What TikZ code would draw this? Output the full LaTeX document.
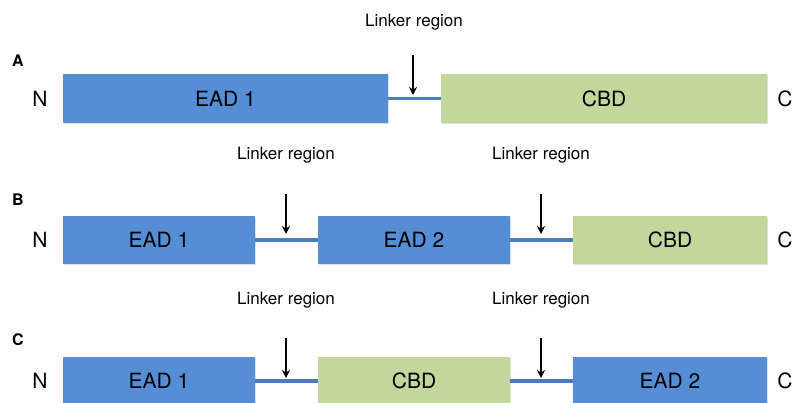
\documentclass[tikz,border=0pt]{standalone}
\usepackage{fontspec}
\setmainfont{TeX Gyre Heros}
\usetikzlibrary{shadows,arrows.meta}
\definecolor{eadblue}{HTML}{558ED5}
\definecolor{cbdgreen}{HTML}{C3D69B}
\definecolor{linkblue}{HTML}{4A7EBB}
\begin{document}
\begin{tikzpicture}[x=1pt,y=-1pt,
  dom/.style={rectangle, inner sep=0pt, minimum height=49pt, font=\fontsize{21}{24}\selectfont,
     drop shadow={shadow xshift=1pt, shadow yshift=-1.5pt, opacity=0.25}},
  ead/.style={dom, fill=eadblue},
  cbd/.style={dom, fill=cbdgreen},
  linker/.style={draw=linkblue, line width=3.8pt},
  pointer/.style={draw=black, line width=2.2pt, -{Stealth[length=8pt,width=8pt]}},
  lbl/.style={font=\fontsize{17}{20}\selectfont},
  term/.style={font=\fontsize{21}{24}\selectfont},
  panel/.style={font=\bfseries\fontsize{16}{19}\selectfont}]
\useasboundingbox (0,0) rectangle (793,403);

% Row A
\node[panel] (pA) at (18,61) {A};
\node[term] (nA) at (40,99) {N};
\node[term] (cA) at (785,99) {C};
\node[ead, minimum width=325pt] (a1) at (225.5,98.5) {EAD 1};
\node[cbd, minimum width=326pt] (a2) at (604,98.5) {CBD};
\draw[linker] (a1.east) -- (a2.west);
\node[lbl] (la) at (414,22) {Linker region};
\coordinate (ta) at (413,55);
\coordinate (ha) at (413,95);
\draw[pointer] (ta) -- (ha);

% Row B
\node[panel] (pB) at (18,200) {B};
\node[term] (nB) at (40,240) {N};
\node[term] (cB) at (785,240) {C};
\node[ead, minimum width=192pt, minimum height=48pt] (b1) at (159,240) {EAD 1};
\node[ead, minimum width=192pt, minimum height=48pt] (b2) at (414,240) {EAD 2};
\node[cbd, minimum width=194pt, minimum height=48pt] (b3) at (670,240) {CBD};
\draw[linker] (b1.east) -- (b2.west);
\draw[linker] (b2.east) -- (b3.west);
\node[lbl] (lb1) at (286,155) {Linker region};
\node[lbl] (lb2) at (541,155) {Linker region};
\coordinate (tb1) at (286,194);
\coordinate (hb1) at (286,234);
\coordinate (tb2) at (541,194);
\coordinate (hb2) at (541,234);
\draw[pointer] (tb1) -- (hb1);
\draw[pointer] (tb2) -- (hb2);

% Row C
\node[panel] (pC) at (18,340) {C};
\node[term] (nC) at (40,381) {N};
\node[term] (cC) at (785,381) {C};
\node[ead, minimum width=192pt, minimum height=48pt] (c1) at (159,381) {EAD 1};
\node[cbd, minimum width=192pt, minimum height=48pt] (c2) at (414,381) {CBD};
\node[ead, minimum width=194pt, minimum height=48pt] (c3) at (670,381) {EAD 2};
\draw[linker] (c1.east) -- (c2.west);
\draw[linker] (c2.east) -- (c3.west);
\node[lbl] (lc1) at (286,300) {Linker region};
\node[lbl] (lc2) at (541,300) {Linker region};
\coordinate (tc1) at (286,338);
\coordinate (hc1) at (286,378);
\coordinate (tc2) at (541,338);
\coordinate (hc2) at (541,378);
\draw[pointer] (tc1) -- (hc1);
\draw[pointer] (tc2) -- (hc2);
\end{tikzpicture}
\end{document}
